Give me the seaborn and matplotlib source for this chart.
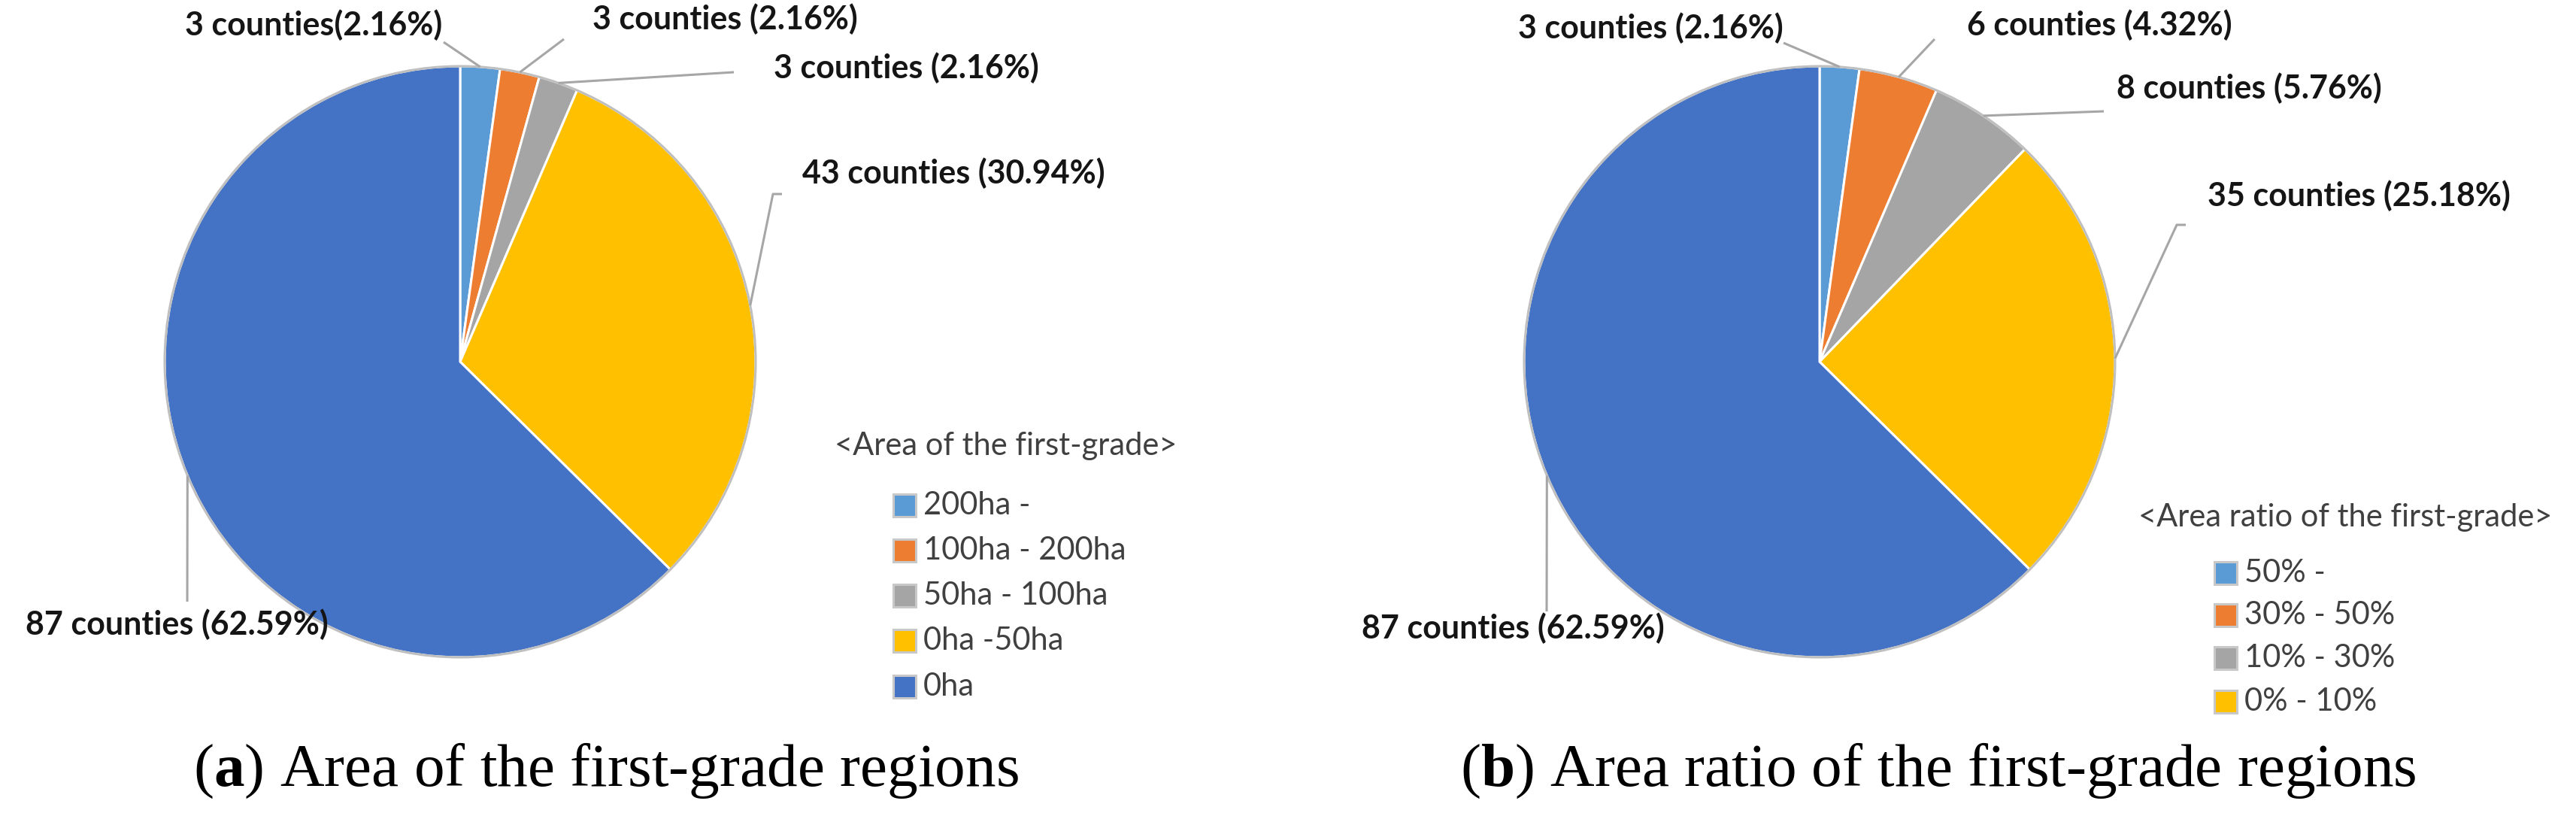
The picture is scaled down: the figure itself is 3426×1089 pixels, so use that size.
import numpy as np
import seaborn as sns
import matplotlib.pyplot as plt
from matplotlib.patches import Rectangle, Circle

W, H = 3426, 1089
R = 393

# panel (a): area of the first-grade regions
categories_a = ["200ha -", "100ha - 200ha", "50ha - 100ha", "0ha -50ha", "0ha"]
counties_a = [3, 3, 3, 43, 87]
labels_a = ["3 counties(2.16%)", "3 counties (2.16%)", "3 counties (2.16%)",
            "43 counties (30.94%)", "87 counties (62.59%)"]
legend_title_a = "<Area of the first-grade>"
caption_a = r"($\mathbf{a}$) Area of the first-grade regions"

# panel (b): area ratio of the first-grade regions
categories_b = ["50% -", "30% - 50%", "10% - 30%", "0% - 10%", "0%"]
counties_b = [3, 6, 8, 35, 87]
labels_b = ["3 counties (2.16%)", "6 counties (4.32%)", "8 counties (5.76%)",
            "35 counties (25.18%)", "87 counties (62.59%)"]
legend_title_b = "<Area ratio of the first-grade>"
caption_b = r"($\mathbf{b}$) Area ratio of the first-grade regions"
legend_shown_b = 4

sns.set_theme(style="white")
palette = sns.color_palette(["#5B9BD5", "#ED7D31", "#A5A5A5", "#FFC000", "#4472C4"])
plt.rcParams['mathtext.fontset'] = 'custom'
plt.rcParams['mathtext.rm'] = 'Liberation Serif'
plt.rcParams['mathtext.bf'] = 'Liberation Serif:bold'

SANS = ['Lato', 'DejaVu Sans']


def draw_panel(ax, counts, labels, center, label_pos, leaders):
    c = (center[0], H - center[1])
    wedges, _ = ax.pie(counts, colors=palette, startangle=90, counterclock=False,
                       radius=R, center=c, frame=True,
                       wedgeprops=dict(edgecolor='white', linewidth=2.2))
    ax.add_patch(Circle(c, R, fill=False, edgecolor='#BFBFBF', linewidth=2.2))
    for w, text, (tx, ty, ha), elbow in zip(wedges, labels, label_pos, leaders):
        mid = np.deg2rad((w.theta1 + w.theta2) / 2)
        px, py = c[0] + R * np.cos(mid), c[1] + R * np.sin(mid)
        pts = [(x, H - y) for x, y in elbow] + [(px, py)]
        xs, ys = zip(*pts)
        ax.plot(xs, ys, color='#A6A6A6', lw=2.2, solid_capstyle='butt')
        ax.text(tx, H - ty, text, ha=ha, va='center', fontsize=31,
                fontweight='bold', family=SANS, color='#151515')
    return wedges


def draw_legend(ax, wedges, cats, title, title_xy, box_x, text_x, ys):
    ax.text(title_xy[0], H - title_xy[1], title, ha='left', va='center',
            fontsize=30, family=SANS, color='#404040')
    for w, cat, y in zip(wedges, cats, ys):
        ax.add_patch(Rectangle((box_x, H - y - 15), 30, 30,
                               facecolor=w.get_facecolor(),
                               edgecolor='#C8C8C8', linewidth=2.2))
        ax.text(text_x, H - y, cat, ha='left', va='center', fontsize=30,
                family=SANS, color='#404040')


fig = plt.figure(figsize=(W / 100, H / 100), dpi=100)
ax = fig.add_axes([0, 0, 1, 1])

wa = draw_panel(
    ax, counties_a, labels_a, (612, 481),
    [(588, 33, 'right'), (788, 25, 'left'), (1029, 90, 'left'),
     (1067, 230, 'left'), (34, 830, 'left')],
    [[(590, 56)], [(750, 52)], [(976, 96)],
     [(1040, 258), (1028, 258)], [(249, 800)]])
wb = draw_panel(
    ax, counties_b, labels_b, (2420, 481),
    [(2372, 37, 'right'), (2616, 33, 'left'), (2815, 117, 'left'),
     (2936, 260, 'left'), (1811, 835, 'left')],
    [[(2372, 57)], [(2573, 52)], [(2798, 148)],
     [(2907, 299), (2895, 299)], [(2057, 813)]])

draw_legend(ax, wa, categories_a, legend_title_a, (1110, 593), 1188, 1228,
            [672, 732, 792, 852, 913])
draw_legend(ax, wb[:legend_shown_b], categories_b[:legend_shown_b],
            legend_title_b, (2844, 688), 2945, 2985, [762, 818, 875, 933])

ax.text(257, H - 1045, caption_a, ha='left', va='baseline', fontsize=58.5,
        family=['Liberation Serif', 'DejaVu Serif'], color='black')
ax.text(1942, H - 1045, caption_b, ha='left', va='baseline', fontsize=58.5,
        family=['Liberation Serif', 'DejaVu Serif'], color='black')

ax.set_xlim(0, W)
ax.set_ylim(0, H)
ax.set_aspect('auto')
ax.axis('off')

fig.savefig("out.png", dpi=100)
